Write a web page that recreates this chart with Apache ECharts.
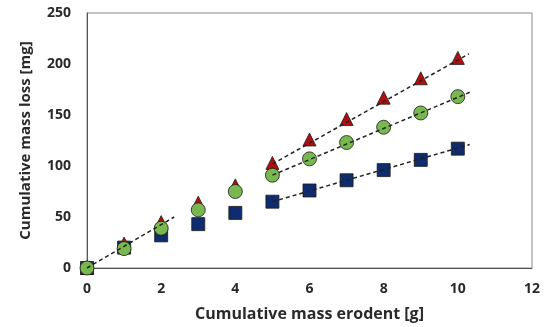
<!DOCTYPE html>
<html>
<head>
<meta charset="utf-8">
<script src="https://cdn.jsdelivr.net/npm/echarts@6/dist/echarts.min.js"></script>
<style>
  html, body { margin: 0; padding: 0; background: #fff; }
  #main { width: 548px; height: 327px; }
</style>
</head>
<body>
<div id="main"></div>
<script>
// data
const massErodent = [0, 1, 2, 3, 4, 5, 6, 7, 8, 9, 10];
const lossTriangle = [0, 24, 45, 64, 81, 103, 126, 146, 167, 186, 206];
const lossCircle = [0, 19, 39, 57, 75, 91, 107, 123, 138, 152, 168];
const lossSquare = [0, 20, 32, 43, 54, 65, 76, 86, 96, 106, 117];

// dashed trend lines: [x, y] end points
const trendStart = [[0, 0], [2.35, 50]];
const trendTriangle = [[5, 102], [10.3, 210]];
const trendCircle = [[5, 91], [10.37, 173]];
const trendSquare = [[5, 65], [10.32, 121]];

const xTicks = [0, 2, 4, 6, 8, 10, 12];
const yTicks = [0, 50, 100, 150, 200, 250];

const pts = (ys) => massErodent.map((x, i) => [x, ys[i]]);

const font = 'Open Sans';
const chart = echarts.init(document.getElementById('main'));

const markerSeries = (data, symbol, size, color) => ({
    type: 'scatter',
    data: data,
    symbol: symbol,
    symbolSize: size,
    itemStyle: { color: color, opacity: 1, borderColor: '#1a1a1a', borderWidth: 0.8 },
    z: 3
});

const trendSeries = (data) => ({
    type: 'line',
    data: data,
    symbol: 'none',
    lineStyle: { color: '#222', width: 1.5, type: [4, 3] },
    silent: true,
    z: 5
});

chart.setOption({
    animation: false,
    grid: {
        left: 87, right: 16, top: 13, bottom: 59,
        show: true, borderColor: '#888', borderWidth: 1
    },
    xAxis: {
        type: 'value',
        min: xTicks[0],
        max: xTicks[xTicks.length - 1],
        interval: 2,
        name: 'Cumulative mass erodent [g]',
        nameLocation: 'middle',
        nameGap: 38,
        nameTextStyle: { fontFamily: font, fontWeight: 'bold', fontSize: 16, color: '#2a2a2a' },
        axisLine: { lineStyle: { color: '#555', width: 1 } },
        axisTick: { show: false },
        splitLine: { show: false },
        axisLabel: { fontFamily: font, fontWeight: 'bold', fontSize: 14, color: '#2a2a2a', margin: 14 }
    },
    yAxis: {
        type: 'value',
        min: yTicks[0],
        max: yTicks[yTicks.length - 1],
        interval: 50,
        name: 'Cumulative mass loss [mg]',
        nameLocation: 'middle',
        nameGap: 54,
        nameTextStyle: { fontFamily: font, fontWeight: 'bold', fontSize: 15, color: '#2a2a2a' },
        axisLine: { show: true, lineStyle: { color: '#555', width: 1 } },
        axisTick: { show: false },
        splitLine: { show: false },
        axisLabel: { fontFamily: font, fontWeight: 'bold', fontSize: 14, color: '#2a2a2a', margin: 16 }
    },
    series: [
        markerSeries(pts(lossSquare), 'rect', 13, '#0f2c6e'),
        markerSeries(pts(lossTriangle), 'triangle', 13, '#b00f0f'),
        markerSeries(pts(lossCircle), 'circle', 14, '#78b84e'),
        trendSeries(trendStart),
        trendSeries(trendTriangle),
        trendSeries(trendCircle),
        trendSeries(trendSquare)
    ]
});
</script>
</body>
</html>
